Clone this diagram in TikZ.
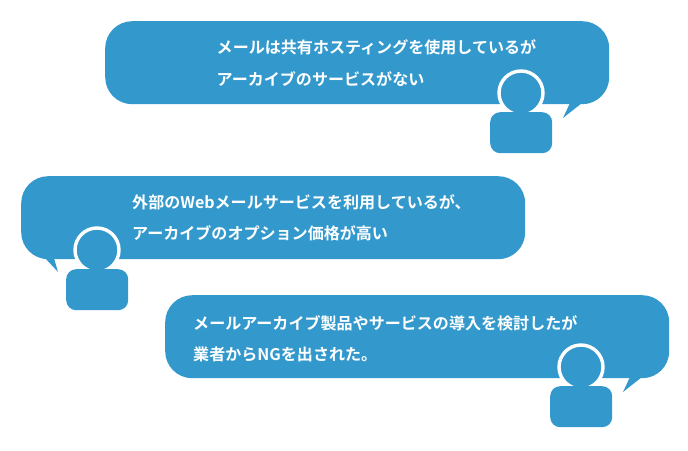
\documentclass[tikz,border=0pt]{standalone}
\usepackage{fontspec}
\setmainfont{Noto Sans CJK JP}[BoldFont={Noto Sans CJK JP Bold}]
\definecolor{bubblue}{HTML}{3399CC}
\tikzset{
  bub/.style={fill=bubblue,draw=none,rounded corners=27pt,minimum width=504pt,minimum height=83pt,inner sep=0pt,anchor=north west},
  lbl/.style={text=white,font=\fontsize{16.05pt}{16pt}\selectfont\bfseries,anchor=base west,inner sep=0pt},
  hd/.style={fill=bubblue,draw=white,line width=3.4pt,circle,minimum size=44pt,inner sep=0pt},
  bodyb/.style={fill=bubblue,draw=none,rounded corners=10pt,minimum width=62pt,minimum height=41pt,inner sep=0pt,anchor=north west},
  tl/.style={fill=bubblue,draw=none}
}
\begin{document}
\begin{tikzpicture}[x=1pt,y=-1pt]
\useasboundingbox (0,0) rectangle (688,450);
% first
\node[bub] (b1) at (105,21) {};
\fill[tl] (570,103) -- (563,118) -- (582,103) -- cycle;
\node[hd] (h1) at (521,93) {};
\node[bodyb] (p1) at (490,112) {};
\node[lbl] (t1a) at (216.5,53.3) {メールは共有ホスティングを使用しているが};
\node[lbl] (t1b) at (216.5,85) {アーカイブのサービスがない};
% second
\node[bub] (b2) at (21,176) {};
\fill[tl] (45,258) -- (58,272) -- (54,258) -- cycle;
\node[hd] (h2) at (97,250) {};
\node[bodyb] (p2) at (66,269) {};
\node[lbl] (t2a) at (132,208.3) {外部のWebメールサービスを利用しているが、};
\node[lbl] (t2b) at (132,239.5) {アーカイブのオプション価格が高い};
% third
\node[bub] (b3) at (165,295) {};
\fill[tl] (630,377) -- (623,392) -- (642,377) -- cycle;
\node[hd] (h3) at (581,367) {};
\node[bodyb] (p3) at (550,386) {};
\node[lbl] (t3a) at (193,329.3) {メールアーカイブ製品やサービスの導入を検討したが};
\node[lbl] (t3b) at (193,360.8) {業者からNGを出された。};
\end{tikzpicture}
\end{document}
